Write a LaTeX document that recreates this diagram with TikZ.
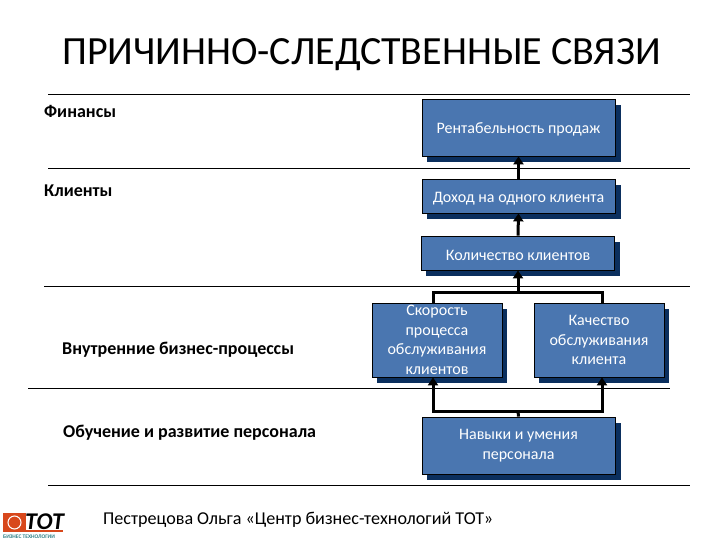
\documentclass[tikz,border=0pt]{standalone}
\usepackage{fontspec}
\setmainfont{Carlito}
\usetikzlibrary{arrows.meta,positioning}
\definecolor{boxblue}{HTML}{4A76B0}
\definecolor{boxshade}{HTML}{0B2F5E}
\definecolor{logored}{HTML}{D8481C}
\definecolor{logoteal}{HTML}{2F7F86}
\tikzset{
  kpibox/.style={draw=black,line width=0.8pt,fill=boxblue,text=white,align=center,
    font=\fontsize{16}{19.5}\selectfont,inner sep=0pt,
    execute at begin node={\rule{0pt}{15pt}}},
  shadebox/.style={fill=boxshade},
  rule/.style={line width=0.8pt},
  link/.style={line width=3pt,-{Triangle[length=8pt,width=10pt]}},
  linkplain/.style={line width=3pt},
  perspective/.style={font=\fontsize{18}{20}\selectfont\bfseries,anchor=west,inner sep=0pt},
}
\begin{document}
\begin{tikzpicture}[x=1pt,y=-1pt]
  \useasboundingbox (0,0) rectangle (720,540);
  \node (title) at (361.5,55) {\fontsize{40}{44}\selectfont ПРИЧИННО-СЛЕДСТВЕННЫЕ СВЯЗИ};
  % rules
  \coordinate (r1a) at (48,94);   \coordinate (r1b) at (690,94);
  \coordinate (r2a) at (48,168);  \coordinate (r2b) at (690,168);
  \coordinate (r3a) at (44,286);  \coordinate (r3b) at (690,286);
  \coordinate (r4a) at (28,388);  \coordinate (r4b) at (670,388);
  \coordinate (r5a) at (48,485);  \coordinate (r5b) at (690,485);
  \draw[rule] (r1a) -- (r1b);
  \draw[rule] (r2a) -- (r2b);
  \draw[rule] (r3a) -- (r3b);
  \draw[rule] (r4a) -- (r4b);
  \draw[rule] (r5a) -- (r5b);
  % shadows
  \fill[shadebox] (427,105) rectangle (621,162);
  \fill[shadebox] (427,185) rectangle (621,219);
  \fill[shadebox] (426,242) rectangle (620,276);
  \fill[shadebox] (377,309) rectangle (507,383);
  \fill[shadebox] (539,309) rectangle (669,383);
  \fill[shadebox] (427,423) rectangle (621,480);
  % boxes
  \node[kpibox,minimum width=193pt,minimum height=57pt] (margin) at (518.5,127.5) {Рентабельность продаж};
  \node[kpibox,minimum width=193pt,minimum height=34pt] (income) at (518.5,196) {Доход на одного клиента};
  \node[kpibox,minimum width=193pt,minimum height=34pt] (clients) at (518,253) {Количество клиентов};
  \node[kpibox,minimum width=130pt,minimum height=74pt] (speed) at (437,340) {Скорость\\процесса\\обслуживания\\клиентов};
  \node[kpibox,minimum width=130pt,minimum height=74pt] (quality) at (599,340) {Качество\\обслуживания\\клиента};
  \node[kpibox,minimum width=193pt,minimum height=57pt] (skills) at (518.5,445.5) {Навыки и умения\\персонала};
  % links
  \coordinate (jtop) at (518,292);
  \coordinate (jbot) at (518,411);
  \draw[link] (income.north) -- (margin.south);
  \draw[link] (clients.north) -- (income.south);
  \draw[link] (jtop) -- (clients.south);
  \draw[linkplain] ([xshift=-4pt]speed.north) |- (jtop) -| ([xshift=3pt]quality.north);
  \draw[linkplain] (skills.north) -- (jbot);
  \draw[link] (jbot) -| ([xshift=-4pt]speed.south);
  \draw[link] (jbot) -| ([xshift=3pt]quality.south);
  % labels
  \node[perspective] (fin) at (44,111) {Финансы};
  \node[perspective] (cust) at (44,191) {Клиенты};
  \node[perspective] (proc) at (62,349.5) {Внутренние бизнес-процессы};
  \node[perspective] (learn) at (63,432.5) {Обучение и развитие персонала};
  \node[anchor=west,inner sep=0pt,font=\fontsize{18.1}{20}\selectfont] (source) at (103,520) {Пестрецова Ольга «Центр бизнес-технологий ТОТ»};
  % logo
  \fill[logored] (3,513) rectangle (26,532);
  \draw[white,line width=1pt] (14.5,522.5) circle (6.5pt);
  \fill[logored] (26,530) rectangle (63,532);
  \node[anchor=west,inner sep=0pt,font=\fontsize{24}{24}\selectfont\bfseries\itshape] (logotext) at (25,521.5) {ТОТ};
  \node[anchor=west,inner sep=0pt,text=logoteal,font=\fontsize{5.5}{5.5}\selectfont\bfseries] (logosub) at (3,536.5) {БИЗНЕС ТЕХНОЛОГИИ};
\end{tikzpicture}
\end{document}
